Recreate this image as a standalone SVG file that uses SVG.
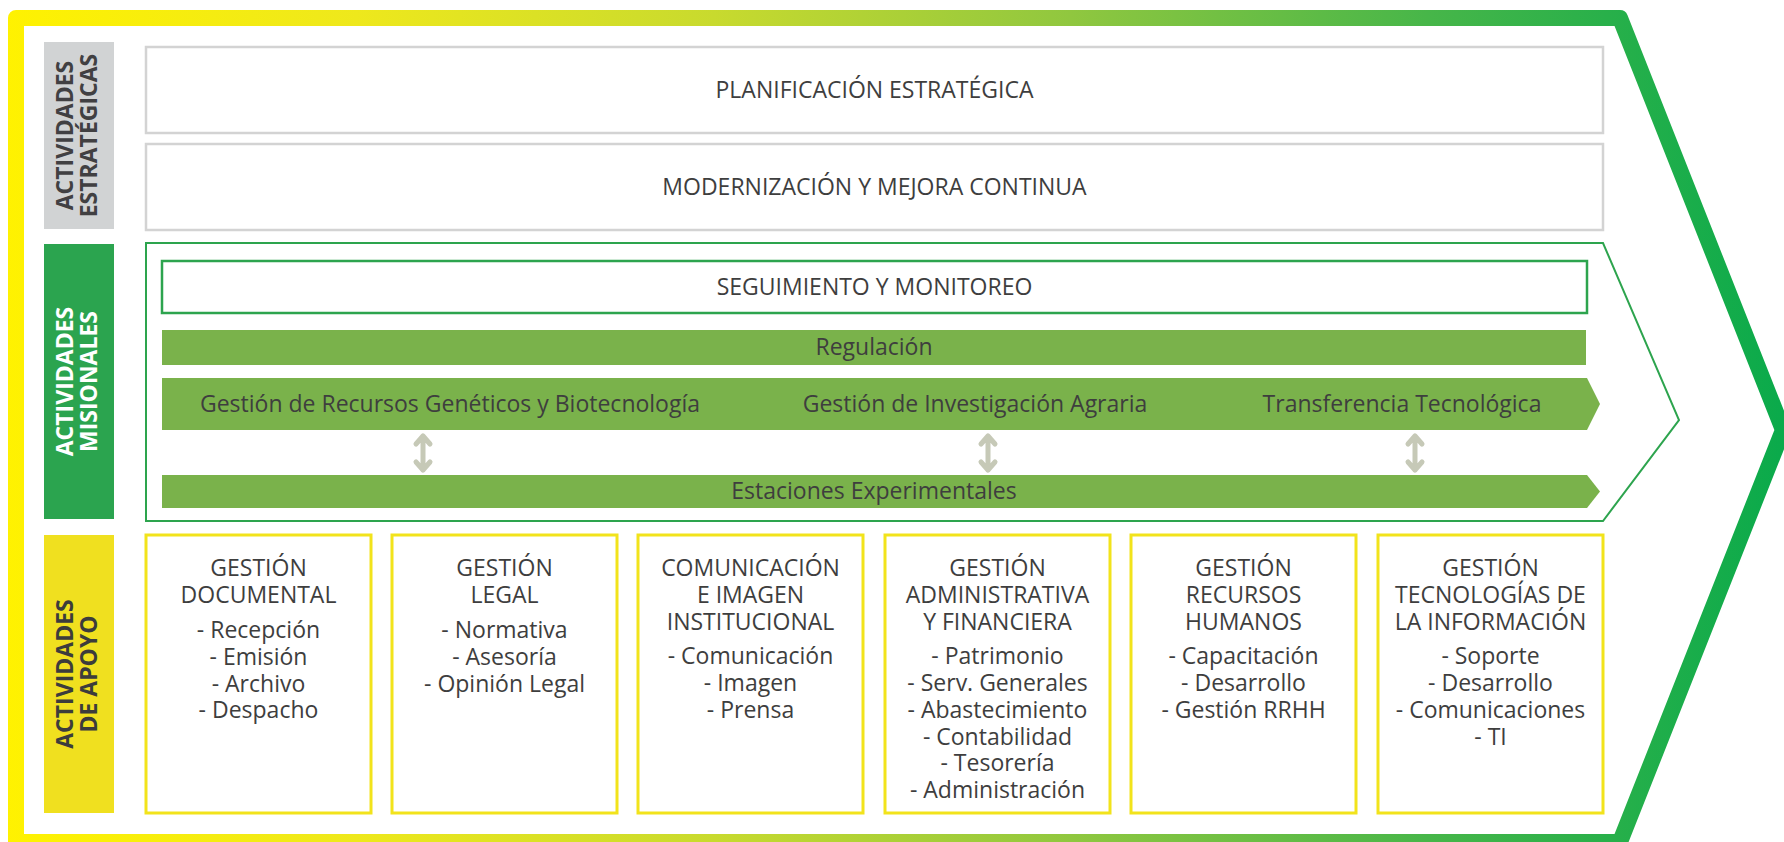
<svg xmlns="http://www.w3.org/2000/svg" width="1784" height="842" viewBox="0 0 1784 842">
  <defs>
    <linearGradient id="frameGrad" gradientUnits="userSpaceOnUse" x1="0" y1="0" x2="1784" y2="0">
      <stop offset="0" stop-color="#FFF200"/>
      <stop offset="0.2" stop-color="#EEE81C"/>
      <stop offset="0.4" stop-color="#C8DA2E"/>
      <stop offset="0.6" stop-color="#90C73F"/>
      <stop offset="0.8" stop-color="#47B649"/>
      <stop offset="1" stop-color="#0AAA4B"/>
    </linearGradient>
    <style>
      .t { font-family: "Open Sans", "Noto Sans", sans-serif; font-size: 23px; fill: #3E3E3E; text-anchor: middle; }
      .lbl { font-family: "Open Sans", "Noto Sans", sans-serif; font-size: 23px; font-weight: bold; text-anchor: middle; }
      .gbox { fill: #FFFFFF; stroke: #D3D3D3; stroke-width: 2.5; }
      .ybox { fill: #FFFFFF; stroke: #F2E31B; stroke-width: 3; }
      .bar { fill: #7AB24B; }
      .dbl { fill: none; stroke: #C6C9B7; stroke-width: 5; stroke-linecap: round; stroke-linejoin: round; }
    </style>
  </defs>

  <rect x="0" y="0" width="1784" height="842" fill="#FFFFFF"/>

  <!-- outer chevron frame -->
  <g id="frame">
    <path d="M16,18 H1620 L1783,430 L1620,842 H16 Z" fill="none" stroke="url(#frameGrad)" stroke-width="16" stroke-linejoin="round"/>
  </g>

  <!-- section labels -->
  <g id="label-estrategicas">
    <rect x="44" y="42" width="70" height="187" fill="#D1D3D4"/>
    <text class="lbl" fill="#414042" transform="translate(73,135.5) rotate(-90)">ACTIVIDADES</text>
    <text class="lbl" fill="#414042" transform="translate(97,135.5) rotate(-90)">ESTRATÉGICAS</text>
  </g>
  <g id="label-misionales">
    <rect x="44" y="244" width="70" height="275" fill="#2BA44F"/>
    <text class="lbl" fill="#FFFFFF" transform="translate(73,381.5) rotate(-90)">ACTIVIDADES</text>
    <text class="lbl" fill="#FFFFFF" transform="translate(97,381.5) rotate(-90)">MISIONALES</text>
  </g>
  <g id="label-apoyo">
    <rect x="44" y="535" width="70" height="278" fill="#F0E01F"/>
    <text class="lbl" fill="#3C3C3C" transform="translate(73,674) rotate(-90)">ACTIVIDADES</text>
    <text class="lbl" fill="#3C3C3C" transform="translate(97,674) rotate(-90)">DE APOYO</text>
  </g>

  <!-- strategic activities -->
  <g id="planificacion">
    <rect class="gbox" x="146" y="47" width="1457" height="86"/>
    <text class="t" x="874.5" y="98">PLANIFICACIÓN ESTRATÉGICA</text>
  </g>
  <g id="modernizacion">
    <rect class="gbox" x="146" y="144" width="1457" height="86"/>
    <text class="t" x="874.5" y="195">MODERNIZACIÓN Y MEJORA CONTINUA</text>
  </g>

  <!-- mission activities container -->
  <g id="misionales-container">
    <path d="M146,243 H1603 L1679,420 L1603,521 H146 Z" fill="none" stroke="#2DA44E" stroke-width="2"/>
  </g>
  <g id="seguimiento">
    <rect x="162" y="261" width="1425" height="52" fill="#FFFFFF" stroke="#2DA44E" stroke-width="2.5"/>
    <text class="t" x="874.5" y="295">SEGUIMIENTO Y MONITOREO</text>
  </g>
  <g id="regulacion">
    <rect class="bar" x="162" y="330" width="1424" height="35"/>
    <text class="t" x="874" y="355">Regulación</text>
  </g>
  <g id="procesos-misionales">
    <polygon class="bar" points="162,378 1587,378 1600,404 1587,430 162,430"/>
    <text class="t" x="450" y="412">Gestión de Recursos Genéticos y Biotecnología</text>
    <text class="t" x="975" y="412">Gestión de Investigación Agraria</text>
    <text class="t" x="1402" y="412">Transferencia Tecnológica</text>
  </g>
  <g id="estaciones">
    <polygon class="bar" points="162,475 1587,475 1600,491.5 1587,508 162,508"/>
    <text class="t" x="874" y="499">Estaciones Experimentales</text>
  </g>

  <!-- connectors -->
  <g id="connectors">
    <path class="dbl" d="M423,436 V470 M416,444 L423,436 L430,444 M416,462 L423,470 L430,462"/>
    <path class="dbl" d="M988,436 V470 M981,444 L988,436 L995,444 M981,462 L988,470 L995,462"/>
    <path class="dbl" d="M1415,436 V470 M1408,444 L1415,436 L1422,444 M1408,462 L1415,470 L1422,462"/>
  </g>

  <!-- support activities -->
  <g id="gestion-documental">
    <rect class="ybox" x="146" y="535" width="225" height="278"/>
    <text class="t" x="258.5" y="576">GESTIÓN</text>
    <text class="t" x="258.5" y="603">DOCUMENTAL</text>
    <text class="t" x="258.5" y="638">- Recepción</text>
    <text class="t" x="258.5" y="665">- Emisión</text>
    <text class="t" x="258.5" y="692">- Archivo</text>
    <text class="t" x="258.5" y="718">- Despacho</text>
  </g>
  <g id="gestion-legal">
    <rect class="ybox" x="392" y="535" width="225" height="278"/>
    <text class="t" x="504.5" y="576">GESTIÓN</text>
    <text class="t" x="504.5" y="603">LEGAL</text>
    <text class="t" x="504.5" y="638">- Normativa</text>
    <text class="t" x="504.5" y="665">- Asesoría</text>
    <text class="t" x="504.5" y="692">- Opinión Legal</text>
  </g>
  <g id="comunicacion">
    <rect class="ybox" x="638" y="535" width="225" height="278"/>
    <text class="t" x="750.5" y="576">COMUNICACIÓN</text>
    <text class="t" x="750.5" y="603">E IMAGEN</text>
    <text class="t" x="750.5" y="629.5">INSTITUCIONAL</text>
    <text class="t" x="750.5" y="664">- Comunicación</text>
    <text class="t" x="750.5" y="691">- Imagen</text>
    <text class="t" x="750.5" y="718">- Prensa</text>
  </g>
  <g id="gestion-administrativa">
    <rect class="ybox" x="885" y="535" width="225" height="278"/>
    <text class="t" x="997.5" y="576">GESTIÓN</text>
    <text class="t" x="997.5" y="603">ADMINISTRATIVA</text>
    <text class="t" x="997.5" y="629.5">Y FINANCIERA</text>
    <text class="t" x="997.5" y="664">- Patrimonio</text>
    <text class="t" x="997.5" y="691">- Serv. Generales</text>
    <text class="t" x="997.5" y="718">- Abastecimiento</text>
    <text class="t" x="997.5" y="744.5">- Contabilidad</text>
    <text class="t" x="997.5" y="771">- Tesorería</text>
    <text class="t" x="997.5" y="798">- Administración</text>
  </g>
  <g id="gestion-rrhh">
    <rect class="ybox" x="1131" y="535" width="225" height="278"/>
    <text class="t" x="1243.5" y="576">GESTIÓN</text>
    <text class="t" x="1243.5" y="603">RECURSOS</text>
    <text class="t" x="1243.5" y="629.5">HUMANOS</text>
    <text class="t" x="1243.5" y="664">- Capacitación</text>
    <text class="t" x="1243.5" y="691">- Desarrollo</text>
    <text class="t" x="1243.5" y="718">- Gestión RRHH</text>
  </g>
  <g id="gestion-ti">
    <rect class="ybox" x="1378" y="535" width="225" height="278"/>
    <text class="t" x="1490.5" y="576">GESTIÓN</text>
    <text class="t" x="1490.5" y="603">TECNOLOGÍAS DE</text>
    <text class="t" x="1490.5" y="629.5">LA INFORMACIÓN</text>
    <text class="t" x="1490.5" y="664">- Soporte</text>
    <text class="t" x="1490.5" y="691">- Desarrollo</text>
    <text class="t" x="1490.5" y="718">- Comunicaciones</text>
    <text class="t" x="1490.5" y="744.5">- TI</text>
  </g>
</svg>
